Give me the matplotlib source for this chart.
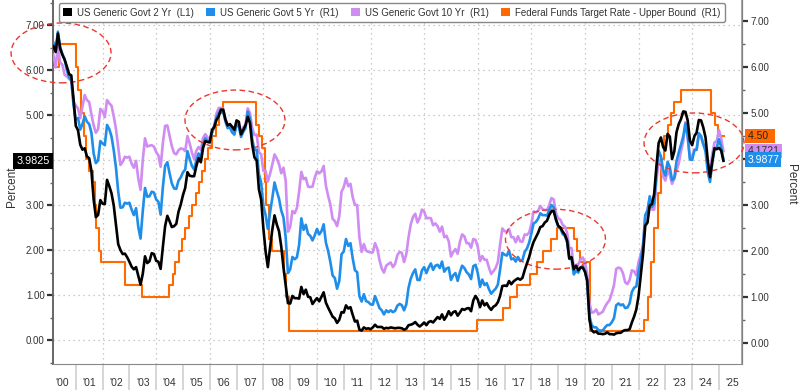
import numpy as np
import matplotlib.pyplot as plt
from matplotlib.patches import Patch, Ellipse
from matplotlib.transforms import blended_transform_factory

plt.rcParams['font.family'] = ['Liberation Sans', 'DejaVu Sans']

# monthly values, Mar 2000 .. Mar 2025 (last point = latest print)
start_year = 2000 + 2 / 12

yield_2y = [
    6.53, 6.40, 6.81, 6.48, 6.34, 6.23, 6.08, 5.91, 5.88, 5.35,  # 2000
    4.76, 4.66, 4.34, 4.23, 4.26, 4.08, 4.04, 3.76, 3.12, 2.73, 2.78, 3.11,  # 2001
    3.03, 3.02, 3.56, 3.42, 3.26, 2.99, 2.56, 2.13, 2.00, 1.91, 1.92, 1.84,  # 2002
    1.74, 1.63, 1.57, 1.62, 1.42, 1.23, 1.47, 1.86, 1.71, 1.75, 1.93, 1.91,  # 2003
    1.76, 1.74, 1.58, 2.07, 2.53, 2.76, 2.64, 2.51, 2.53, 2.58, 2.85, 3.01,  # 2004
    3.22, 3.38, 3.73, 3.65, 3.64, 3.64, 3.87, 4.04, 3.95, 4.27, 4.42, 4.40,  # 2005
    4.40, 4.67, 4.73, 4.89, 4.97, 5.12, 5.12, 4.90, 4.77, 4.80, 4.74, 4.67,  # 2006
    4.88, 4.85, 4.57, 4.67, 4.77, 4.96, 4.82, 4.34, 4.06, 3.99, 3.35, 3.12,  # 2007
    2.48, 1.97, 1.62, 2.05, 2.45, 2.77, 2.57, 2.42, 2.08, 1.61, 1.21, 0.82,  # 2008
    0.81, 0.98, 0.93, 0.93, 0.92, 1.18, 1.02, 1.12, 0.96, 0.95, 0.80, 0.87,  # 2009
    0.93, 0.86, 0.96, 1.06, 0.83, 0.72, 0.62, 0.52, 0.48, 0.38, 0.45, 0.62,  # 2010
    0.61, 0.77, 0.70, 0.73, 0.56, 0.41, 0.43, 0.23, 0.21, 0.28, 0.25, 0.26,  # 2011
    0.24, 0.28, 0.34, 0.29, 0.29, 0.29, 0.25, 0.27, 0.26, 0.28, 0.27, 0.26,  # 2012
    0.27, 0.27, 0.26, 0.23, 0.25, 0.33, 0.34, 0.36, 0.40, 0.34, 0.30, 0.34,  # 2013
    0.39, 0.33, 0.40, 0.42, 0.39, 0.45, 0.51, 0.47, 0.57, 0.45, 0.53, 0.64,  # 2014
    0.55, 0.62, 0.64, 0.54, 0.61, 0.69, 0.67, 0.70, 0.71, 0.64, 0.88, 0.98,  # 2015
    0.90, 0.73, 0.88, 0.77, 0.82, 0.73, 0.67, 0.74, 0.77, 0.84, 0.98, 1.20,  # 2016
    1.21, 1.20, 1.31, 1.24, 1.30, 1.34, 1.37, 1.34, 1.38, 1.55, 1.70, 1.84,  # 2017
    2.03, 2.18, 2.28, 2.38, 2.51, 2.53, 2.61, 2.65, 2.78, 2.86, 2.86, 2.68,  # 2018
    2.54, 2.50, 2.41, 2.34, 2.21, 1.81, 1.84, 1.57, 1.65, 1.55, 1.61, 1.61,  # 2019
    1.52, 1.33, 0.45, 0.22, 0.17, 0.19, 0.14, 0.14, 0.13, 0.14, 0.17, 0.13,  # 2020
    0.13, 0.12, 0.15, 0.16, 0.16, 0.20, 0.22, 0.22, 0.24, 0.39, 0.52, 0.68,  # 2021
    0.98, 1.44, 1.91, 2.54, 2.61, 2.99, 3.02, 3.25, 3.86, 4.38, 4.50, 4.29,  # 2022
    4.21, 4.58, 4.52, 4.02, 4.19, 4.62, 4.80, 4.91, 5.08, 5.07, 4.88, 4.43,  # 2023
    4.33, 4.53, 4.61, 4.89, 4.88, 4.72, 4.50, 3.98, 3.62, 3.97, 4.26, 4.24,  # 2024
    4.27, 4.21, 3.9825,  # 2025
]

yield_5y = [
    6.53, 6.36, 6.77, 6.43, 6.28, 6.17, 5.93, 5.78, 5.70, 5.17,
    4.86, 4.89, 4.64, 4.76, 4.93, 4.81, 4.76, 4.57, 4.12, 3.91, 3.97, 4.39,
    4.34, 4.30, 4.74, 4.65, 4.49, 4.19, 3.81, 3.29, 2.94, 2.95, 3.05, 3.03,
    3.05, 2.90, 2.78, 2.93, 2.52, 2.27, 2.87, 3.37, 3.18, 3.19, 3.29, 3.27,
    3.12, 3.07, 2.79, 3.39, 3.85, 3.93, 3.69, 3.47, 3.36, 3.35, 3.53, 3.60,
    3.71, 3.77, 4.17, 4.00, 3.85, 3.77, 3.98, 4.12, 4.01, 4.33, 4.45, 4.39,
    4.35, 4.57, 4.72, 4.90, 5.00, 5.07, 5.04, 4.82, 4.67, 4.69, 4.58, 4.53,
    4.75, 4.71, 4.48, 4.59, 4.67, 5.03, 4.88, 4.43, 4.20, 4.20, 3.67, 3.49,
    2.98, 2.78, 2.48, 2.84, 3.15, 3.49, 3.30, 3.14, 2.88, 2.73, 2.29, 1.52,
    1.60, 1.87, 1.82, 1.86, 2.13, 2.71, 2.46, 2.57, 2.37, 2.33, 2.23, 2.34,
    2.48, 2.36, 2.43, 2.58, 2.18, 2.00, 1.76, 1.47, 1.41, 1.18, 1.35, 1.93,
    1.99, 2.26, 2.11, 2.17, 1.84, 1.58, 1.54, 1.02, 0.90, 1.06, 0.91, 0.89,
    0.84, 0.83, 1.02, 0.89, 0.76, 0.71, 0.62, 0.71, 0.67, 0.71, 0.67, 0.70,
    0.81, 0.85, 0.82, 0.71, 0.84, 1.20, 1.40, 1.52, 1.60, 1.37, 1.37, 1.58,
    1.65, 1.52, 1.64, 1.73, 1.59, 1.68, 1.70, 1.63, 1.77, 1.55, 1.62, 1.64,
    1.37, 1.47, 1.52, 1.35, 1.54, 1.68, 1.63, 1.54, 1.49, 1.39, 1.67, 1.70,
    1.52, 1.22, 1.38, 1.26, 1.30, 1.17, 1.07, 1.13, 1.18, 1.27, 1.60, 1.96,
    1.92, 1.90, 2.01, 1.82, 1.84, 1.77, 1.87, 1.78, 1.80, 1.98, 2.05, 2.18,
    2.38, 2.60, 2.63, 2.70, 2.82, 2.78, 2.78, 2.77, 2.89, 3.00, 2.95, 2.68,
    2.54, 2.49, 2.37, 2.33, 2.19, 1.83, 1.83, 1.49, 1.57, 1.53, 1.64, 1.68,
    1.56, 1.32, 0.59, 0.39, 0.34, 0.34, 0.28, 0.27, 0.27, 0.34, 0.39, 0.39,
    0.45, 0.54, 0.82, 0.86, 0.82, 0.84, 0.76, 0.77, 0.86, 1.11, 1.20, 1.23,
    1.54, 1.81, 2.11, 2.78, 2.87, 3.19, 2.96, 3.03, 3.70, 4.18, 4.06, 3.76,
    3.64, 3.94, 3.82, 3.54, 3.59, 3.95, 4.14, 4.31, 4.49, 4.77, 4.49, 3.99,
    3.98, 4.19, 4.20, 4.56, 4.50, 4.32, 4.16, 3.71, 3.50, 3.91, 4.23, 4.25,
    4.43, 4.26, 3.9877,
]

yield_10y = [
    6.26, 5.99, 6.44, 6.10, 6.05, 5.83, 5.80, 5.74, 5.72, 5.24,
    5.16, 5.10, 4.89, 5.14, 5.39, 5.28, 5.24, 4.97, 4.73, 4.57, 4.65, 5.09,
    5.04, 4.91, 5.28, 5.21, 5.16, 4.93, 4.65, 4.26, 3.87, 3.94, 4.05, 4.03,
    4.05, 3.90, 3.81, 3.96, 3.57, 3.33, 3.98, 4.45, 4.27, 4.29, 4.30, 4.27,
    4.15, 4.08, 3.83, 4.35, 4.72, 4.73, 4.50, 4.28, 4.13, 4.10, 4.19, 4.23,
    4.22, 4.17, 4.50, 4.34, 4.14, 4.00, 4.18, 4.26, 4.20, 4.46, 4.54, 4.47,
    4.42, 4.57, 4.72, 4.99, 5.11, 5.11, 5.09, 4.88, 4.72, 4.73, 4.60, 4.56,
    4.76, 4.72, 4.56, 4.69, 4.75, 5.10, 5.00, 4.67, 4.52, 4.53, 4.15, 4.10,
    3.74, 3.74, 3.51, 3.68, 3.88, 4.10, 4.01, 3.89, 3.69, 3.81, 3.53, 2.42,
    2.52, 2.87, 2.82, 2.93, 3.29, 3.72, 3.56, 3.59, 3.40, 3.39, 3.40, 3.59,
    3.73, 3.69, 3.73, 3.85, 3.42, 3.20, 3.01, 2.70, 2.65, 2.54, 2.76, 3.29,
    3.39, 3.58, 3.41, 3.46, 3.17, 3.00, 3.00, 2.30, 1.98, 2.15, 2.01, 1.98,
    1.97, 1.97, 2.17, 2.05, 1.80, 1.62, 1.53, 1.68, 1.72, 1.75, 1.65, 1.72,
    1.91, 1.98, 1.96, 1.76, 1.93, 2.30, 2.58, 2.74, 2.81, 2.62, 2.72, 2.90,
    2.86, 2.71, 2.72, 2.71, 2.56, 2.60, 2.54, 2.42, 2.53, 2.30, 2.33, 2.21,
    1.88, 1.98, 2.04, 1.94, 2.20, 2.36, 2.32, 2.17, 2.17, 2.07, 2.26, 2.24,
    2.09, 1.78, 1.89, 1.81, 1.81, 1.64, 1.50, 1.56, 1.63, 1.76, 2.14, 2.49,
    2.43, 2.42, 2.48, 2.30, 2.30, 2.19, 2.32, 2.21, 2.20, 2.36, 2.35, 2.40,
    2.58, 2.86, 2.84, 2.87, 2.98, 2.91, 2.89, 2.89, 3.00, 3.15, 3.12, 2.83,
    2.71, 2.68, 2.57, 2.53, 2.40, 2.07, 2.06, 1.63, 1.70, 1.71, 1.81, 1.86,
    1.76, 1.50, 0.87, 0.66, 0.67, 0.73, 0.62, 0.65, 0.68, 0.79, 0.87, 0.93,
    1.08, 1.26, 1.61, 1.64, 1.62, 1.52, 1.32, 1.28, 1.37, 1.58, 1.56, 1.47,
    1.76, 1.93, 2.13, 2.75, 2.90, 3.14, 2.90, 2.90, 3.52, 3.98, 3.89, 3.62,
    3.53, 3.75, 3.66, 3.46, 3.57, 3.75, 3.90, 4.17, 4.38, 4.80, 4.50, 4.02,
    4.06, 4.21, 4.21, 4.54, 4.48, 4.31, 4.25, 3.87, 3.72, 4.10, 4.36, 4.39,
    4.63, 4.45, 4.1721,
]

# fed funds target (upper bound): change dates (decimal years) and new level
fed_dates = [2000.15, 2000.37, 2001.01, 2001.08, 2001.21, 2001.29, 2001.37, 2001.49,
             2001.64, 2001.71, 2001.75, 2001.85, 2001.94, 2002.85, 2003.48, 2004.49,
             2004.61, 2004.72, 2004.86, 2004.95, 2005.09, 2005.22, 2005.34, 2005.49,
             2005.60, 2005.72, 2005.83, 2005.95, 2006.08, 2006.24, 2006.36, 2006.49,
             2007.71, 2007.83, 2007.94, 2008.06, 2008.08, 2008.21, 2008.33, 2008.77,
             2008.83, 2008.96, 2015.96, 2016.95, 2017.20, 2017.45, 2017.95, 2018.22,
             2018.45, 2018.74, 2018.97, 2019.58, 2019.71, 2019.83, 2020.17, 2020.20,
             2022.21, 2022.34, 2022.46, 2022.57, 2022.72, 2022.84, 2022.95, 2023.09,
             2023.22, 2023.34, 2023.57, 2024.71, 2024.85, 2024.96, 2025.17]
fed_rates = [6.00, 6.50, 6.00, 5.50, 5.00, 4.50, 4.00, 3.75,
             3.50, 3.00, 2.50, 2.00, 1.75, 1.25, 1.00, 1.25,
             1.50, 1.75, 2.00, 2.25, 2.50, 2.75, 3.00, 3.25,
             3.50, 3.75, 4.00, 4.25, 4.50, 4.75, 5.00, 5.25,
             4.75, 4.50, 4.25, 3.50, 3.00, 2.25, 2.00, 1.50,
             1.00, 0.25, 0.50, 0.75, 1.00, 1.25, 1.50, 1.75,
             2.00, 2.25, 2.50, 2.25, 2.00, 1.75, 1.25, 0.25,
             0.50, 1.00, 1.75, 2.50, 3.25, 4.00, 4.50, 4.75,
             5.00, 5.25, 5.50, 5.00, 4.75, 4.50, 4.50]

# highlighted regions: (year centre, value centre) on left axis
circles = [(2000.45, 6.38), (2006.94, 4.89), (2018.90, 2.24), (2024.07, 4.38)]

year_labels = ["'%02d" % (y % 100) for y in range(2000, 2026)]

c_2y = '#000000'
c_5y = '#1F8EEA'
c_10y = '#CF8CF2'
c_fed = '#FF6A00'
txt = '#333333'

dates = start_year + np.arange(len(yield_2y)) / 12

fig = plt.figure(figsize=(8, 3.91), dpi=100)
ax = fig.add_axes([53 / 800, 27 / 391, 689 / 800, 364 / 391])
ax2 = ax.twinx()
ax3 = ax.twinx()

x0, x1 = 2000.15, 2025.86
ax.set_xlim(x0, x1)
ax.set_ylim(-0.533, 7.556)
ax2.set_ylim(-0.457, 7.457)
ax3.set_ylim(ax.get_ylim())

# grid
for v in range(8):
    ax.axhline(v, color='#bbbbbb', lw=0.9, ls=(0, (1, 3)), zorder=0)
for yr in range(2002, 2026, 2):
    ax.axvline(yr, color='#bbbbbb', lw=0.9, ls=(0, (1, 3)), zorder=0)

ax2.step(fed_dates, fed_rates, where='post', color=c_fed, lw=1.5)
ax2.plot(dates, yield_10y, color=c_10y, lw=1.9)
ax2.plot(dates, yield_5y, color=c_5y, lw=1.9)
ax3.plot(dates, yield_2y, color=c_2y, lw=1.9)
ax3.axis('off')

# x axis: separators at year boundaries, labels mid-year
ax.set_xticks(range(2001, 2026))
ax.set_xticks([y + 0.5 for y in range(2000, 2026)], minor=True)
ax.set_xticklabels([], minor=False)
ax.set_xticklabels(year_labels, minor=True)
ax.tick_params(axis='x', which='major', length=19, width=1.2, color='#d0d0d0')
ax.tick_params(axis='x', which='minor', length=0, pad=10, labelsize=7.5, labelcolor=txt)

# 4.00 sits under the last-value tags on both sides
yt = list(range(8))
ylab = ['' if v == 4 else '%.2f' % v for v in yt]
ax.set_yticks(yt)
ax.set_yticklabels(ylab)
ax.set_yticks(np.arange(-0.5, 7.6, 0.5), minor=True)
ax2.set_yticks(yt)
ax2.set_yticklabels(ylab)
ax2.set_yticks(np.arange(0.5, 7.5, 1.0), minor=True)
for a in (ax, ax2):
    a.tick_params(axis='y', which='major', length=4, width=1.6, color='#333333',
                  labelsize=7, labelcolor=txt, pad=2)
    a.tick_params(axis='y', which='minor', length=2.5, width=1, color='#666666')

for a in (ax, ax2):
    a.spines['top'].set_visible(False)
ax.spines['left'].set_color('#666666')
ax.spines['left'].set_linewidth(1.4)
ax.spines['bottom'].set_color('#888888')
ax2.spines['right'].set_color('#999999')
ax2.spines['right'].set_linewidth(1.2)
ax2.spines['bottom'].set_visible(False)
ax2.spines['left'].set_visible(False)

fig.text(12 / 800, 1 - 187 / 391, 'Percent', rotation=90, ha='center', va='center',
         fontsize=8.5, color=txt)
fig.text(791 / 800, 1 - 184 / 391, 'Percent', rotation=270, ha='center', va='center',
         fontsize=8.5, color=txt)

# last value tags
tl = blended_transform_factory(ax.transAxes, ax.transData)
ax3.text(-0.005, yield_2y[-1], '%.4f' % yield_2y[-1], transform=tl, ha='right', va='center',
         fontsize=7.8, color='white', clip_on=False, zorder=10,
         bbox=dict(boxstyle='square,pad=0.3', fc='black', ec='none'))
tr = blended_transform_factory(ax2.transAxes, ax2.transData)
for val, fmt, fc, tc in [(fed_rates[-1], '%.2f', c_fed, '#222222'),
                         (yield_10y[-1], '%.4f', c_10y, '#333333'),
                         (yield_5y[-1], '%.4f', c_5y, 'white')]:
    s = fmt % val
    ax2.text(1.008, val, s.ljust(6), transform=tr, ha='left', va='center',
             fontsize=7.5, color=tc, clip_on=False, zorder=5,
             bbox=dict(boxstyle='square,pad=0.2', fc=fc, ec='none'))

# dashed ellipses
for cx, cy in circles:
    ax3.add_patch(Ellipse((cx, cy), 3.73, 1.33, fill=False, ec='#E8392E', lw=1,
                          ls=(0, (4, 2.5)), clip_on=False))

handles = [Patch(fc=c, ec='none') for c in (c_2y, c_5y, c_10y, c_fed)]
labels = ['US Generic Govt 2 Yr  (L1)', 'US Generic Govt 5 Yr  (R1)',
          'US Generic Govt 10 Yr  (R1)', 'Federal Funds Target Rate - Upper Bound  (R1)']
leg = fig.legend(handles, labels, loc='upper left', bbox_to_anchor=(54 / 800, 1.004), ncol=4,
                 fontsize=7, handlelength=0.9, handleheight=0.9, handletextpad=0.5,
                 columnspacing=1.3, borderpad=0.45, fancybox=True, framealpha=1,
                 edgecolor='#888888', labelcolor=txt)
leg.get_frame().set_linewidth(1.0)

fig.savefig('out.png', dpi=100)
